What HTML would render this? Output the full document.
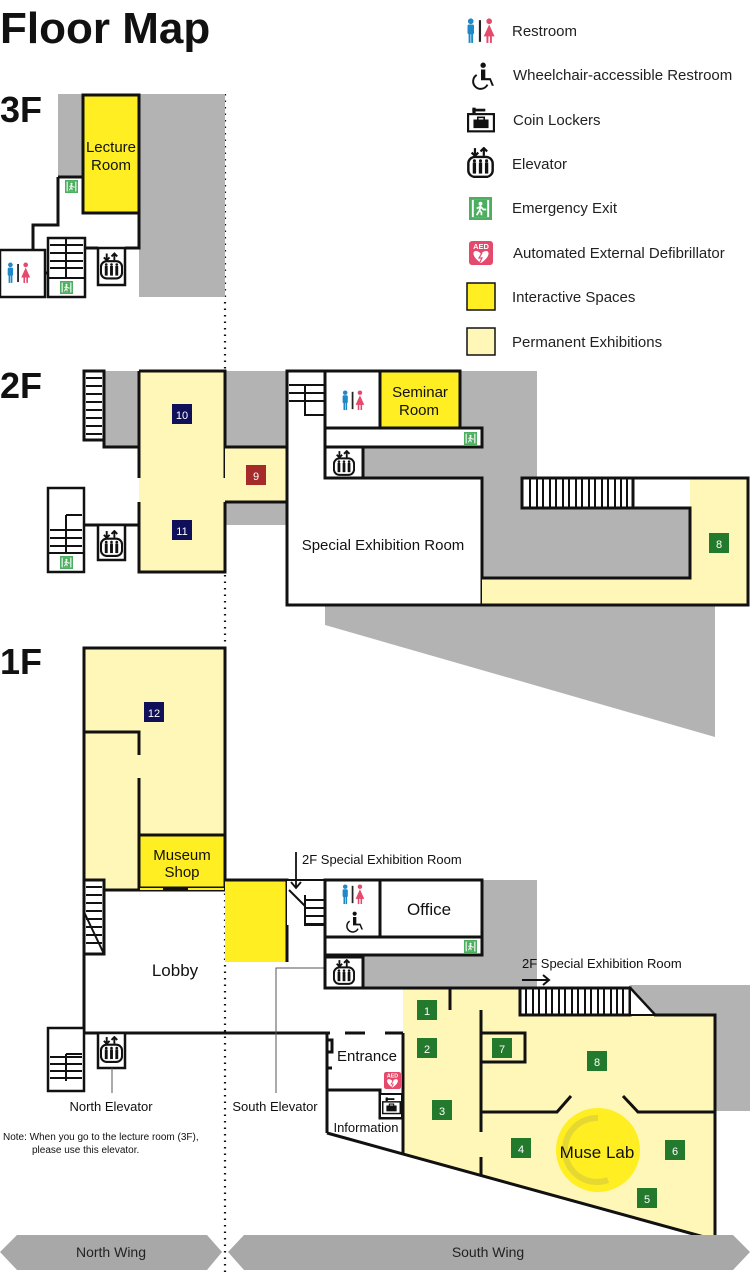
<!DOCTYPE html>
<html><head><meta charset="utf-8"><style>
html,body{margin:0;padding:0;background:#fff}
svg{display:block}
text{font-family:"Liberation Sans",sans-serif}
</style></head><body>
<svg width="750" height="1272" viewBox="0 0 750 1272" xmlns="http://www.w3.org/2000/svg">
<defs>
<symbol id="wc" viewBox="0 0 30 24">
<circle cx="6" cy="3" r="2.6" fill="#1e88c8"/><rect x="3" y="6" width="6" height="9" rx="1.5" fill="#1e88c8"/><rect x="4" y="14" width="1.8" height="9" fill="#1e88c8"/><rect x="6.4" y="14" width="1.8" height="9" fill="#1e88c8"/>
<rect x="13.5" y="2" width="2" height="20" fill="#222"/>
<circle cx="23" cy="3" r="2.6" fill="#e5496b"/><path d="M23 6 L28 17 L18 17 Z" fill="#e5496b"/><rect x="20.5" y="16" width="1.8" height="7" fill="#e5496b"/><rect x="23.7" y="16" width="1.8" height="7" fill="#e5496b"/>
</symbol>
<symbol id="wh" viewBox="0 0 24 26">
<circle cx="14" cy="3" r="2.5" fill="#111"/><path d="M12 7h4v8h5l3 7h-2l-2-5h-8z" fill="#111"/><path d="M8 12a7 7 0 1 0 10 9" fill="none" stroke="#111" stroke-width="1.8"/>
</symbol>
<symbol id="lk" viewBox="0 0 26 24">
<rect x="5" y="1" width="3" height="5" fill="#111"/><rect x="5" y="2" width="12" height="2.5" fill="#111"/>
<rect x="1" y="7" width="24" height="16" fill="none" stroke="#111" stroke-width="2"/><rect x="6" y="12" width="14" height="8" fill="#111"/><rect x="10" y="10" width="6" height="3" fill="none" stroke="#111" stroke-width="1.5"/>
</symbol>
<symbol id="el" viewBox="0 0 24 28">
<path d="M7 1v6M4 5l3 3 3-3" stroke="#111" stroke-width="2" fill="none"/><path d="M15 8V2M12 4l3-3 3 3" stroke="#111" stroke-width="2" fill="none"/>
<rect x="1" y="9" width="22" height="18" rx="6" fill="none" stroke="#111" stroke-width="2.2"/>
<rect x="5" y="14" width="3" height="10" fill="#111"/><rect x="10.5" y="14" width="3" height="10" fill="#111"/><rect x="16" y="14" width="3" height="10" fill="#111"/>
<circle cx="6.5" cy="12.5" r="1.4" fill="#111"/><circle cx="12" cy="12.5" r="1.4" fill="#111"/><circle cx="17.5" cy="12.5" r="1.4" fill="#111"/>
</symbol>
<symbol id="ex" viewBox="0 0 24 24">
<rect width="24" height="24" fill="#4caf5f"/><rect x="3" y="3" width="18" height="18" fill="#fff"/><rect x="5" y="3" width="14" height="18" fill="#4caf5f"/><circle cx="12" cy="7" r="2" fill="#fff"/><path d="M8 19l3-5 2 2v3M11 14l1-4 3 3h3M12 10l-4 2" stroke="#fff" stroke-width="1.8" fill="none"/>
</symbol>
<symbol id="aed" viewBox="0 0 24 24">
<rect width="24" height="24" rx="3" fill="#e5496b"/><text x="12" y="8" font-size="7.5" font-weight="bold" fill="#fff" text-anchor="middle">AED</text><path d="M12 22 C3 16 3 10 7 10 C10 10 12 13 12 13 C12 13 14 10 17 10 C21 10 21 16 12 22Z" fill="#fff"/><path d="M13 12l-3 5h3l-2 4" stroke="#e5496b" stroke-width="1.2" fill="none"/>
</symbol>
</defs>

<text x="0" y="43" font-size="44" font-weight="bold" fill="#111">Floor Map</text>
<use href="#wc" x="464" y="18" width="33" height="26"/><text x="512" y="36" font-size="15" fill="#222">Restroom</text>
<use href="#wh" x="468" y="62" width="26" height="28"/><text x="513" y="80" font-size="15" fill="#222">Wheelchair-accessible Restroom</text>
<use href="#lk" x="467" y="106" width="28" height="27"/><text x="513" y="125" font-size="15" fill="#222">Coin Lockers</text>
<use href="#el" x="467" y="147" width="27" height="31"/><text x="512" y="169" font-size="15" fill="#222">Elevator</text>
<use href="#ex" x="469" y="197" width="23" height="23"/><text x="512" y="213" font-size="15" fill="#222">Emergency Exit</text>
<use href="#aed" x="469" y="241" width="24" height="24"/><text x="513" y="258" font-size="15" fill="#222">Automated External Defibrillator</text>
<rect x="467" y="283" width="28" height="27" fill="#ffee22" stroke="#111" stroke-width="1.5"/><text x="512" y="302" font-size="15" fill="#222">Interactive Spaces</text>
<rect x="467" y="328" width="28" height="27" fill="#fff7b8" stroke="#111" stroke-width="1.5"/><text x="512" y="347" font-size="15" fill="#222">Permanent Exhibitions</text>

<line x1="225" y1="94" x2="225" y2="1272" stroke="#111" stroke-width="2.2" stroke-dasharray="1.5 5"/>

<g stroke="#111" stroke-width="3" stroke-linejoin="miter">
<!-- 3F -->
<text x="0" y="122" font-size="36" font-weight="bold" fill="#111" stroke="none">3F</text>
<rect x="58" y="94" width="167" height="203" fill="#b3b3b3" stroke="none"/>
<path d="M58 177 H83 V213 H139 V248 H139 V297 H0 V250 H33 V225 H58Z" fill="#fff" stroke="none"/>
<path d="M58 177 H83 M139 213 V248 H125 M98 248 H85 M58 177 V225 H33 V273 H48" fill="none"/>
<rect x="83" y="95" width="56" height="118" fill="#ffee22"/>
<rect x="98" y="248" width="27" height="37" fill="#fff" stroke-width="2.5"/>
<use href="#el" x="100" y="252" width="23" height="28" stroke="none"/>
<rect x="48" y="238" width="37" height="59" fill="#fff" stroke-width="2.5"/>
<path d="M50 245H83M50 253H83M50 261H83M50 268H83M66 238V278M48 278H85" fill="none" stroke-width="2"/>
<rect x="0" y="250" width="45" height="47" fill="#fff" stroke-width="2.5"/>
<use href="#wc" x="5" y="262" width="27" height="22" stroke="none"/>
<use href="#ex" x="60" y="281" width="13" height="13" stroke="none"/>
<use href="#ex" x="65" y="180" width="13" height="13" stroke="none"/>
<text x="111" y="152" font-size="15" fill="#111" stroke="none" text-anchor="middle">Lecture</text>
<text x="111" y="170" font-size="15" fill="#111" stroke="none" text-anchor="middle">Room</text>

<!-- 2F -->
<text x="0" y="398" font-size="36" font-weight="bold" fill="#111" stroke="none">2F</text>
<rect x="104" y="371" width="433" height="107" fill="#b3b3b3" stroke="none"/>
<rect x="225" y="478" width="62" height="47" fill="#b3b3b3" stroke="none"/>
<path d="M325 605 H715 V737 L325 625Z" fill="#b3b3b3" stroke="none"/>
<path d="M84 440 H104 V447 H139 V525 H84Z" fill="#fff" stroke="none"/>
<path d="M104 371 V447 H139 M84 525 H139 M139 371 V478 M139 502 V525" fill="none"/>
<rect x="139" y="371" width="86" height="201" fill="#fff7b8" stroke="none"/>
<path d="M139 371 H225 V478 M225 502 V572 H139 V502 M139 478 V371" fill="none"/>
<rect x="225" y="447" width="62" height="55" fill="#fff7b8" stroke="none"/>
<path d="M225 447 H287 M225 502 H287" fill="none"/>
<rect x="84" y="371" width="20" height="69" fill="#fff"/>
<path d="M86 378H102M86 386H102M86 394H102M86 402H102M86 410H102M86 418H102M86 426H102M86 434H102" stroke-width="2"/>
<rect x="48" y="488" width="36" height="84" fill="#fff" stroke-width="2.5"/>
<path d="M66 515H82M50 530H82M50 538H82M50 546H82M50 553H82M66 515V553M48 553H84" fill="none" stroke-width="2"/>
<use href="#ex" x="60" y="556" width="13" height="13" stroke="none"/>
<rect x="98" y="525" width="27" height="35" fill="#fff" stroke-width="2.5"/>
<use href="#el" x="100" y="530" width="23" height="27" stroke="none"/>
<rect x="172" y="404" width="20" height="20" fill="#0f0f5a" stroke="none"/><text x="182" y="419" font-size="11" fill="#fff" stroke="none" text-anchor="middle">10</text>
<rect x="172" y="520" width="20" height="20" fill="#0f0f5a" stroke="none"/><text x="182" y="535" font-size="11" fill="#fff" stroke="none" text-anchor="middle">11</text>
<rect x="246" y="465" width="20" height="20" fill="#a52a2a" stroke="none"/><text x="256" y="480" font-size="11" fill="#fff" stroke="none" text-anchor="middle">9</text>
<path d="M287 371 H325 V447 H363 V478 H482 V605 H287Z" fill="#fff"/>
<path d="M482 478 H748 V605 H482Z" fill="#fff7b8" stroke="none"/>
<rect x="482" y="478" width="208" height="100" fill="#b3b3b3" stroke="none"/>
<rect x="633" y="478" width="57" height="30" fill="#fff" stroke="none"/>
<path d="M482 478 V578 H690 V508 H633" fill="none"/>
<path d="M522 478 H748 V605 H287" fill="none"/>
<rect x="522" y="478" width="111" height="30" fill="#fff"/>
<path d="M530 478V508M537 478V508M543 478V508M550 478V508M556 478V508M563 478V508M569 478V508M576 478V508M582 478V508M589 478V508M595 478V508M602 478V508M608 478V508M615 478V508M621 478V508M627 478V508" stroke-width="2"/>
<path d="M287 371 H325 M287 371 V605" fill="none"/>
<path d="M289 385H325M289 393H325M289 401H325M305 385V415H325" fill="none" stroke-width="2"/>
<rect x="325" y="428" width="157" height="19" fill="#fff"/>
<rect x="325" y="371" width="55" height="57" fill="#fff"/>
<rect x="380" y="371" width="80" height="57" fill="#ffee22"/>
<use href="#wc" x="340" y="390" width="26" height="21" stroke="none"/>
<use href="#ex" x="464" y="432" width="13" height="13" stroke="none"/>
<rect x="325" y="447" width="38" height="31" fill="#fff"/>
<use href="#el" x="333" y="450" width="22" height="26" stroke="none"/>
<text x="420" y="397" font-size="15" fill="#111" stroke="none" text-anchor="middle">Seminar</text>
<text x="419" y="415" font-size="15" fill="#111" stroke="none" text-anchor="middle">Room</text>
<text x="383" y="550" font-size="15" fill="#111" stroke="none" text-anchor="middle">Special Exhibition Room</text>
<rect x="709" y="533" width="20" height="20" fill="#237a2d" stroke="none"/><text x="719" y="548" font-size="11" fill="#fff" stroke="none" text-anchor="middle">8</text>

<!-- 1F -->
<text x="0" y="674" font-size="36" font-weight="bold" fill="#111" stroke="none">1F</text>
<rect x="363" y="880" width="174" height="108" fill="#b3b3b3" stroke="none"/>
<rect x="630" y="985" width="120" height="126" fill="#b3b3b3" stroke="none"/>
<rect x="84" y="648" width="141" height="242" fill="#fff7b8"/>
<path d="M84 732 H139 V755 M139 778 V888 M139 835 H225" fill="none"/>
<rect x="139" y="835" width="86" height="53" fill="#ffee22"/>
<path d="M140 889H163M188 889H224" stroke="#ffee22" stroke-width="2"/>
<rect x="225" y="880" width="62" height="82" fill="#ffee22" stroke="none"/>
<path d="M225 880 H287 V962" fill="none"/>
<path d="M84 890 V1033 H330 M345 1033 H365 M385 1033 H412 M403 1033 H450 M403 1060 H450" fill="none"/>
<rect x="84" y="880" width="20" height="74" fill="#fff"/>
<path d="M86 887H102M86 895H102M86 903H102M86 911H102M86 919H102M86 927H102M86 935H102M86 943H102" stroke-width="2"/>
<path d="M84 912 L104 954" stroke-width="2"/>
<rect x="48" y="1028" width="36" height="63" fill="#fff" stroke-width="2.5"/>
<path d="M66 1054H82M50 1057H82M50 1064H82M50 1071H82M50 1078H82M66 1054V1081" fill="none" stroke-width="2"/>
<rect x="98" y="1033" width="27" height="35" fill="#fff" stroke-width="2.5"/>
<use href="#el" x="100" y="1036" width="23" height="27" stroke="none"/>
<line x1="112" y1="1068" x2="112" y2="1093" stroke="#555" stroke-width="1"/>
<path d="M276 1093 V968 H325" fill="none" stroke="#555" stroke-width="1"/>
<rect x="287" y="880" width="38" height="45" fill="#fff" stroke="none"/>
<path d="M287 880 H325 M305 900H325M305 908H325M305 916H325M305 924H325M305 895V925H325 M289 890 L305 906" fill="none" stroke-width="2"/>
<path d="M296 852 V888 M291 882 L296 888 L301 882" fill="none" stroke-width="1.8"/>
<rect x="325" y="937" width="157" height="18" fill="#fff"/>
<rect x="325" y="880" width="55" height="57" fill="#fff"/>
<rect x="380" y="880" width="102" height="57" fill="#fff"/>
<use href="#wc" x="340" y="884" width="26" height="21" stroke="none"/>
<use href="#wh" x="343" y="910" width="20" height="24" stroke="none"/>
<use href="#ex" x="464" y="940" width="13" height="13" stroke="none"/>
<rect x="325" y="957" width="38" height="31" fill="#fff"/>
<use href="#el" x="333" y="959" width="22" height="26" stroke="none"/>
<path d="M403 988 H520 V1015 H715 V1240 L403 1154 Z" fill="#fff7b8" stroke="none"/>
<path d="M325 988 H520 M520 988 H630 L655 1015 H715 V1240 L327 1133" fill="none"/>
<rect x="520" y="988" width="110" height="27" fill="#fff"/>
<path d="M526 988V1015M533 988V1015M539 988V1015M546 988V1015M552 988V1015M559 988V1015M565 988V1015M572 988V1015M578 988V1015M585 988V1015M591 988V1015M598 988V1015M604 988V1015M611 988V1015M617 988V1015M623 988V1015" stroke-width="2"/>
<path d="M630 988 L655 1015 L630 1015Z" fill="#fff" stroke-width="2"/>
<path d="M403 1033 V1154 M450 988 V1010 M481 1010 V1132 M481 1157 V1176 M481 1033 H525 V1062 H481 M481 1112 H557 L571 1096 M623 1096 L638 1112 H715" fill="none"/>
<path d="M327 1033 V1133 M327 1090 H380 V1118 H403 M327 1040 h5 v12 h-5 M327 1068 h5" fill="none"/>
<rect x="380" y="1094" width="22" height="24" fill="#fff" stroke-width="2"/>
<use href="#lk" x="382" y="1096" width="19" height="19" stroke="none"/>
<use href="#aed" x="384" y="1072" width="17" height="17" stroke="none"/>
<circle cx="598" cy="1150" r="42" fill="#ffee22" stroke="none"/>
<path d="M598 1118 a32 32 0 1 0 10 62" fill="none" stroke="#dccf3a" stroke-width="6" opacity="0.7"/>
<text x="597" y="1158" font-size="17" fill="#111" stroke="none" text-anchor="middle">Muse Lab</text>
<g stroke="none" fill="#237a2d">
<rect x="417" y="1000" width="20" height="20"/><rect x="417" y="1038" width="20" height="20"/><rect x="432" y="1100" width="20" height="20"/><rect x="492" y="1038" width="20" height="20"/><rect x="587" y="1051" width="20" height="20"/><rect x="511" y="1138" width="20" height="20"/><rect x="665" y="1140" width="20" height="20"/><rect x="637" y="1188" width="20" height="20"/>
</g>
<g stroke="none" fill="#fff" font-size="11" text-anchor="middle">
<text x="427" y="1015">1</text><text x="427" y="1053">2</text><text x="442" y="1115">3</text><text x="502" y="1053">7</text><text x="597" y="1066">8</text><text x="521" y="1153">4</text><text x="675" y="1155">6</text><text x="647" y="1203">5</text>
</g>
<rect x="144" y="702" width="20" height="20" fill="#0f0f5a" stroke="none"/><text x="154" y="717" font-size="11" fill="#fff" stroke="none" text-anchor="middle">12</text>
<path d="M522 980 H548 M543 975 L549 980 L543 985" fill="none" stroke-width="2"/>
</g>

<g fill="#111" font-size="15">
<text x="182" y="860" text-anchor="middle">Museum</text>
<text x="182" y="877" text-anchor="middle">Shop</text>
<text x="175" y="976" font-size="17" text-anchor="middle">Lobby</text>
<text x="429" y="915" font-size="17" text-anchor="middle">Office</text>
<text x="367" y="1061" text-anchor="middle">Entrance</text>
<text x="366" y="1132" font-size="13" text-anchor="middle">Information</text>
<text x="302" y="864" font-size="13">2F Special Exhibition Room</text>
<text x="522" y="968" font-size="13">2F Special Exhibition Room</text>
<text x="111" y="1111" font-size="13" text-anchor="middle">North Elevator</text>
<text x="275" y="1111" font-size="13" text-anchor="middle">South Elevator</text>
<text x="3" y="1140" font-size="10">Note: When you go to the lecture room (3F),</text>
<text x="32" y="1153" font-size="10">please use this elevator.</text>
</g>

<path d="M0 1252 L17 1235 H207 L222 1252 L207 1270 H17 Z" fill="#a8a8a8"/>
<path d="M228 1252 L244 1235 H733 L750 1252 L733 1270 H244 Z" fill="#a8a8a8"/>
<text x="111" y="1257" font-size="14" fill="#222" text-anchor="middle">North Wing</text>
<text x="488" y="1257" font-size="14" fill="#222" text-anchor="middle">South Wing</text>
</svg>
</body></html>
